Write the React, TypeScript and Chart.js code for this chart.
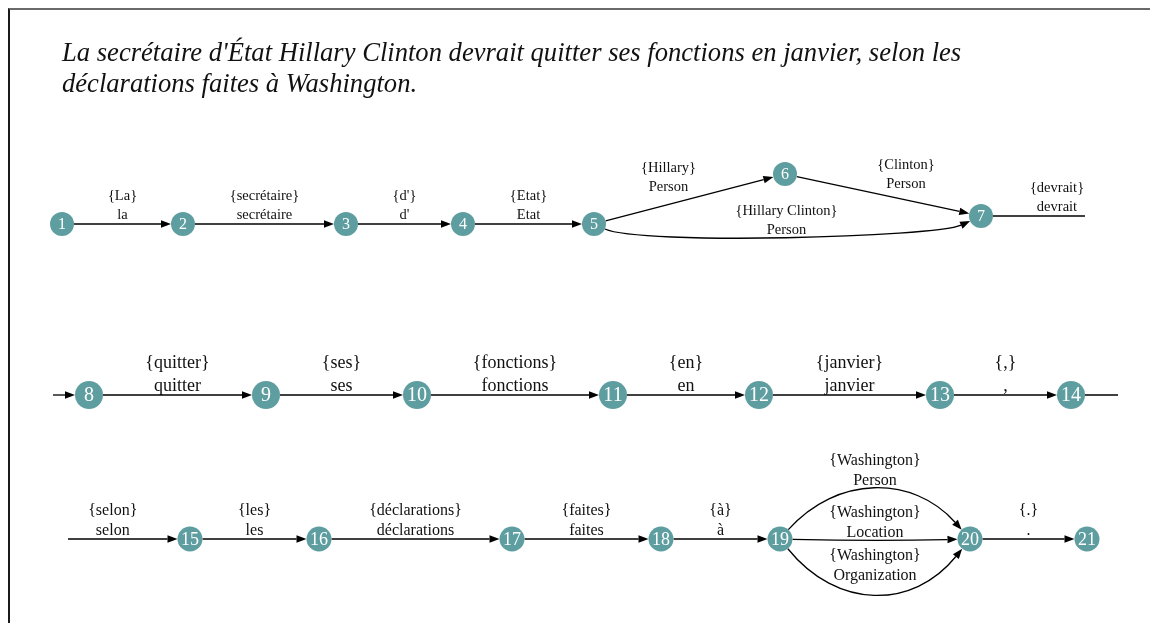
import React, { useEffect, useRef } from 'react';
import { Chart, registerables } from 'chart.js';

Chart.register(...registerables);

// ---------- data ----------
const titleLines = [
  "La secrétaire d'État Hillary Clinton devrait quitter ses fonctions en janvier, selon les",
  'déclarations faites à Washington.',
];

const nodeNames = ['1', '2', '3', '4', '5', '6', '7', '8', '9', '10', '11', '12', '13', '14', '15', '16', '17', '18', '19', '20', '21'];
const nodeX = [62, 183, 346, 463, 594, 785, 981, 89, 266, 417, 613, 759, 940, 1071, 190, 319, 512, 661, 780, 970, 1087];
const nodeY = [224, 224, 224, 224, 224, 174, 216, 395, 395, 395, 395, 395, 395, 395, 539, 539, 539, 539, 539, 539, 539];
const nodeRow = [0, 0, 0, 0, 0, 0, 0, 1, 1, 1, 1, 1, 1, 1, 2, 2, 2, 2, 2, 2, 2];

const edgeFrom = [1, 2, 3, 4, 5, 6, 5, 7, 8, 9, 10, 11, 12, 13, 14, 15, 16, 17, 18, 19, 19, 19, 20];
const edgeTo = [2, 3, 4, 5, 6, 7, 7, 8, 9, 10, 11, 12, 13, 14, 15, 16, 17, 18, 19, 20, 20, 20, 21];
const edgeTop = ['{La}', '{secrétaire}', "{d'}", '{Etat}', '{Hillary}', '{Clinton}', '{Hillary Clinton}', '{devrait}', '{quitter}', '{ses}', '{fonctions}', '{en}', '{janvier}', '{,}', '{selon}', '{les}', '{déclarations}', '{faites}', '{à}', '{Washington}', '{Washington}', '{Washington}', '{.}'];
const edgeBottom = ['la', 'secrétaire', "d'", 'Etat', 'Person', 'Person', 'Person', 'devrait', 'quitter', 'ses', 'fonctions', 'en', 'janvier', ',', 'selon', 'les', 'déclarations', 'faites', 'à', 'Person', 'Location', 'Organization', '.'];
const edgeBend = [0, 0, 0, 0, 0, 0, 16, 0, 0, 0, 0, 0, 0, 0, 0, 0, 0, 0, 0, -48, 1, 53, 0];
const edgeCurveK = [0, 0, 0, 0, 0, 0, 0.12, 0, 0, 0, 0, 0, 0, 0, 0, 0, 0, 0, 0, 0.3, 0.3, 0.3, 0];
const labelDx = [0, 0, 0, 0, -21, 23, -1, 18, 0, 0, 0, 0, 0, 0, -10, 0, 0, 0, 0, 0, 0, 0, 0];
const labelDy = [0, 0, 0, 0, -3, -2, 3, 0, 0, 0, 0, 0, 0, 0, 0, 0, 0, 0, 0, -2, 1, -8, 0];

// row wrap stubs (x where the broken edge leaves / re-enters a row)
const rowEndX = [1085, 1118, 0];
const rowStartX = [0, 53, 68];

// ---------- styles ----------
const NODE_COLOR = '#5F9EA0';
const ROW_RADIUS = [12, 14, 12.5];
const ROW_NUM_FONT = [16, 20, 18];
const ROW_LABEL_FONT = [14.5, 18, 16];
const ROW_LABEL_OFFSET = [-5, -4, -4];
const ROW_LINE_GAP = [19, 23, 20];
const TITLE_SIZE = 26.6;
const TITLE_X = 62;
const TITLE_BASE = [61, 92];
const SERIF = '"Liberation Serif", "Times New Roman", serif';

const graphPlugin = {
  id: 'graphPlugin',
  beforeDatasetsDraw(chart: any) {
    const ctx: CanvasRenderingContext2D = chart.ctx;
    const xs = chart.scales.x;
    const ys = chart.scales.y;
    const X = (v: number) => xs.getPixelForValue(v);
    const Y = (v: number) => ys.getPixelForValue(v);

    ctx.save();
    // title
    ctx.fillStyle = '#111';
    ctx.font = `italic ${TITLE_SIZE}px ${SERIF}`;
    ctx.textAlign = 'left';
    ctx.textBaseline = 'alphabetic';
    titleLines.forEach((t, i) => ctx.fillText(t, X(TITLE_X), Y(TITLE_BASE[i])));

    ctx.strokeStyle = '#000';
    ctx.fillStyle = '#000';
    ctx.lineWidth = 1.3;

    const arrow = (tx: number, ty: number, dx: number, dy: number) => {
      const L = 10;
      const W = 3.8;
      const bx = tx - dx * L;
      const by = ty - dy * L;
      ctx.beginPath();
      ctx.moveTo(tx, ty);
      ctx.lineTo(bx - dy * W, by + dx * W);
      ctx.lineTo(bx + dy * W, by - dx * W);
      ctx.closePath();
      ctx.fill();
      return [bx, by];
    };
    const norm = (dx: number, dy: number) => {
      const l = Math.hypot(dx, dy) || 1;
      return [dx / l, dy / l];
    };
    const drawLabel = (i: number, row: number, mx: number, my: number) => {
      ctx.font = `${ROW_LABEL_FONT[row]}px ${SERIF}`;
      ctx.textAlign = 'center';
      ctx.textBaseline = 'alphabetic';
      ctx.fillStyle = '#111';
      const by = my + ROW_LABEL_OFFSET[row] + labelDy[i];
      ctx.fillText(edgeBottom[i], mx + labelDx[i], by);
      ctx.fillText(edgeTop[i], mx + labelDx[i], by - ROW_LINE_GAP[row]);
      ctx.fillStyle = '#000';
    };

    for (let i = 0; i < edgeFrom.length; i++) {
      const a = edgeFrom[i] - 1;
      const b = edgeTo[i] - 1;
      const ra = ROW_RADIUS[nodeRow[a]];
      const rb = ROW_RADIUS[nodeRow[b]];
      const ax = X(nodeX[a]);
      const ay = Y(nodeY[a]);
      const bx = X(nodeX[b]);
      const by = Y(nodeY[b]);

      if (nodeRow[a] !== nodeRow[b]) {
        const outStart = ax + ra;
        const outEnd = X(rowEndX[nodeRow[a]]);
        ctx.beginPath();
        ctx.moveTo(outStart, ay);
        ctx.lineTo(outEnd, ay);
        ctx.stroke();
        const inStart = X(rowStartX[nodeRow[b]]);
        const tip = bx - rb;
        const [baseX] = arrow(tip, by, 1, 0);
        ctx.beginPath();
        ctx.moveTo(inStart, by);
        ctx.lineTo(baseX, by);
        ctx.stroke();
        if (outEnd - outStart >= tip - inStart) {
          drawLabel(i, nodeRow[a], (outStart + outEnd) / 2, ay);
        } else {
          drawLabel(i, nodeRow[b], (inStart + tip) / 2, by);
        }
        continue;
      }

      const row = nodeRow[a];
      if (edgeBend[i] === 0) {
        const [dx, dy] = norm(bx - ax, by - ay);
        const sx = ax + dx * ra;
        const sy = ay + dy * ra;
        const tx = bx - dx * rb;
        const ty = by - dy * rb;
        const [px, py] = arrow(tx, ty, dx, dy);
        ctx.beginPath();
        ctx.moveTo(sx, sy);
        ctx.lineTo(px, py);
        ctx.stroke();
        drawLabel(i, row, (sx + tx) / 2, (sy + ty) / 2);
      } else {
        const span = bx - ax;
        const k = edgeCurveK[i];
        const off = edgeBend[i] * (4 / 3);
        const c1x = ax + span * k;
        const c1y = ay + off;
        const c2x = bx - span * k;
        const c2y = by + off;
        const [d1x, d1y] = norm(c1x - ax, c1y - ay);
        const [d2x, d2y] = norm(bx - c2x, by - c2y);
        const sx = ax + d1x * ra;
        const sy = ay + d1y * ra;
        const tx = bx - d2x * rb;
        const ty = by - d2y * rb;
        const [px, py] = arrow(tx, ty, d2x, d2y);
        ctx.beginPath();
        ctx.moveTo(sx, sy);
        ctx.bezierCurveTo(c1x, c1y, c2x, c2y, px, py);
        ctx.stroke();
        const mx = 0.125 * ax + 0.375 * c1x + 0.375 * c2x + 0.125 * bx;
        const my = 0.125 * ay + 0.375 * c1y + 0.375 * c2y + 0.125 * by;
        drawLabel(i, row, mx, my);
      }
    }
    ctx.restore();
  },
  afterDatasetsDraw(chart: any) {
    const ctx: CanvasRenderingContext2D = chart.ctx;
    const meta = chart.getDatasetMeta(0);
    ctx.save();
    ctx.fillStyle = '#fff';
    ctx.textAlign = 'center';
    ctx.textBaseline = 'middle';
    meta.data.forEach((pt: any, i: number) => {
      ctx.font = `${ROW_NUM_FONT[nodeRow[i]]}px ${SERIF}`;
      ctx.fillText(nodeNames[i], pt.x, pt.y + 1);
    });
    ctx.restore();
  },
};

export default function App() {
  const ref = useRef<HTMLCanvasElement>(null);
  useEffect(() => {
    const canvas = ref.current;
    if (!canvas) return;
    const chart = new Chart(canvas, {
      type: 'scatter',
      data: {
        datasets: [
          {
            data: nodeX.map((x, i) => ({ x, y: nodeY[i] })),
            pointRadius: (c: any) => ROW_RADIUS[nodeRow[c.dataIndex]],
            pointHoverRadius: (c: any) => ROW_RADIUS[nodeRow[c.dataIndex]],
            backgroundColor: NODE_COLOR,
            borderWidth: 0,
            clip: false as any,
          },
        ],
      },
      options: {
        responsive: false,
        animation: false,
        events: [],
        layout: { padding: 0, autoPadding: false },
        scales: {
          x: { type: 'linear', min: 10, max: 1150, display: false },
          y: { type: 'linear', min: 10, max: 623, reverse: true, display: false },
        },
        plugins: {
          legend: { display: false },
          tooltip: { enabled: false },
        },
      },
      plugins: [graphPlugin],
    } as any);
    return () => chart.destroy();
  }, []);

  return (
    <div
      style={{
        position: 'fixed',
        left: 8,
        top: 8,
        borderTop: '2px solid #6a6a6a',
        borderLeft: '2px solid #1a1a1a',
        width: 1142,
        height: 615,
        boxSizing: 'border-box',
        background: '#fff',
        overflow: 'hidden',
      }}
    >
      <canvas ref={ref} width={1140} height={613} style={{ display: 'block' }} />
    </div>
  );
}
